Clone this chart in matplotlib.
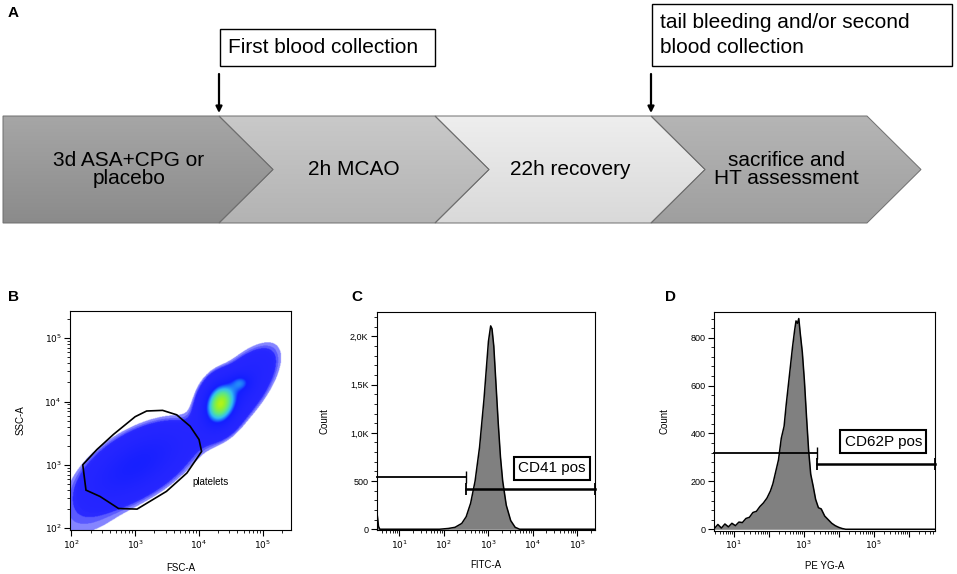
import matplotlib.pyplot as plt
import numpy as np
from matplotlib.colors import LinearSegmentedColormap, to_rgb
from matplotlib.patches import Polygon, Rectangle

plt.rcParams["font.family"] = ["Liberation Sans", "DejaVu Sans"]

# ---- panel A: timeline ----
stages = ["3d ASA+CPG or\nplacebo", "2h MCAO", "22h recovery", "sacrifice and\nHT assessment"]
stage_top = ["#a6a6a6", "#c9c9c9", "#eeeeee", "#b5b5b5"]
stage_bottom = ["#8b8b8b", "#b3b3b3", "#d9d9d9", "#9f9f9f"]
events = ["First blood collection", "tail bleeding and/or second\nblood collection"]
event_after = [0, 2]  # arrow at the end of these stages

# ---- panel B: FSC-A / SSC-A populations (log10 units) ----
# centre x, centre y, spread along, spread across, tilt (deg), relative density
pop_cx = [3.02, 2.2, 4.55, 4.33, 4.65]
pop_cy = [3.0, 2.15, 4.10, 3.97, 4.30]
pop_along = [0.46, 0.45, 0.42, 0.20, 0.11]
pop_across = [0.22, 0.28, 0.17, 0.14, 0.09]
pop_tilt = [31, 15, 50, 75, 0]
pop_weight = [1.0, 0.045, 0.75, 3.0, 0.9]

gate_x = [2.18, 2.23, 2.45, 2.74, 3.03, 3.49, 3.81, 4.04, 4.00, 3.86, 3.65, 3.43, 3.18, 3.00, 2.66, 2.40]
gate_y = [3.00, 2.60, 2.50, 2.31, 2.30, 2.58, 2.87, 3.21, 3.40, 3.61, 3.79, 3.86, 3.85, 3.76, 3.48, 3.24]

# ---- panel C: FITC-A histogram (log10 units) ----
fitc_x = [0.49, 0.51, 0.53, 0.56, 1.9, 2.1, 2.25, 2.4, 2.5, 2.6, 2.7, 2.8, 2.9, 2.95,
          3.0, 3.05, 3.08, 3.12, 3.17, 3.22, 3.27, 3.32, 3.4, 3.5, 3.6, 3.7, 5.4]
fitc_count = [190, 120, 30, 0, 0, 8, 20, 60, 130, 270, 500, 850, 1350, 1650,
              1950, 2110, 2080, 1900, 1500, 1100, 750, 500, 250, 90, 20, 0, 0]
cd41_cut = 2.5
cd41_neg_y, cd41_pos_y = 540, 418

# ---- panel D: PE YG-A histogram (log10 units) ----
pe_x = [0.43, 0.55, 0.65, 0.75, 0.85, 0.95, 1.05, 1.15, 1.25, 1.35, 1.45, 1.55, 1.65,
        1.75, 1.85, 1.95, 2.05, 2.12, 2.2, 2.28, 2.36, 2.44, 2.5, 2.56, 2.62, 2.68,
        2.74, 2.78, 2.82, 2.86, 2.9, 2.96, 3.02, 3.08, 3.14, 3.2, 3.27, 3.34, 3.42,
        3.5, 3.6, 3.7, 3.8, 3.9, 4.0, 4.1, 4.2, 6.74]
pe_count = [0, 20, 5, 22, 10, 25, 15, 30, 28, 45, 50, 70, 75,
            95, 110, 130, 160, 190, 240, 290, 380, 430, 520, 600, 680, 760,
            830, 870, 860, 880, 820, 740, 620, 470, 330, 230, 180, 125, 90,
            85, 55, 40, 25, 15, 8, 3, 0, 0]
cd62_cut = 3.39
cd62_neg_y, cd62_pos_y = 317, 271

W, H = 957, 574
fig = plt.figure(figsize=(W / 100, H / 100), dpi=100)

# pixel-space overlay for panel A and letters
ax0 = fig.add_axes([0, 0, 1, 1])
ax0.set_xlim(0, W)
ax0.set_ylim(H, 0)
ax0.axis("off")

x0, step, tip, top, bot = 3, 216, 54, 116, 223
mid = (top + bot) / 2
for i, name in enumerate(stages):
    left = x0 + i * step
    right = left + step
    pts = [(left, top), (right, top), (right + tip, mid), (right, bot), (left, bot)]
    if i > 0:
        pts.append((left + tip, mid))
    poly = Polygon(pts, closed=True, facecolor="none", edgecolor="#6e6e6e", lw=0.7, zorder=3)
    ax0.add_patch(poly)
    grad = np.linspace(0, 1, 64)[:, None, None]
    img = (1 - grad) * np.array(to_rgb(stage_top[i])) + grad * np.array(to_rgb(stage_bottom[i]))
    img = np.repeat(img, 2, axis=1)
    im = ax0.imshow(img, extent=(left, right + tip, bot, top), aspect="auto",
                    interpolation="bilinear", zorder=2)
    im.set_clip_path(poly)
    cx = (left + right + tip) / 2 - (9 if i == 0 else 0)
    ax0.text(cx, mid, name, ha="center", va="center", fontsize=15,
             linespacing=1.0, zorder=4)

box_w = [215, 300]
box_top = [29, 4]
box_h = [37, 62]
for k, label in enumerate(events):
    xa = x0 + (event_after[k] + 1) * step
    ax0.annotate("", xy=(xa, top - 3), xytext=(xa, box_top[k] + box_h[k] + 8),
                 arrowprops=dict(arrowstyle="-|>", color="black", lw=1.6,
                                 mutation_scale=9, shrinkA=0, shrinkB=0))
    ax0.add_patch(Rectangle((xa + 1, box_top[k]), box_w[k], box_h[k],
                            facecolor="white", edgecolor="black", lw=1.0))
    ax0.text(xa + 9, box_top[k] + box_h[k] / 2, label, ha="left", va="center",
             fontsize=15, linespacing=1.35)

for letter, (lx, ly) in zip("ABCD", [(8, 13), (8, 297), (351, 297), (665, 297)]):
    ax0.text(lx, ly, letter, fontsize=11, fontweight="bold", ha="left", va="center")


def px_axes(left, right, top_, bottom):
    return fig.add_axes([left / W, 1 - bottom / H, (right - left) / W, (bottom - top_) / H])


def style(ax):
    for s in ax.spines.values():
        s.set_linewidth(0.8)
    ax.tick_params(which="major", direction="out", length=4, width=0.8, labelsize=6.5, pad=2)
    ax.tick_params(which="minor", direction="out", length=2, width=0.6)


def log_ticks(ax, axis, lo, hi, labelled):
    majors = list(range(int(np.ceil(lo)), int(np.floor(hi)) + 1))
    minors = [n + np.log10(k) for n in range(int(np.floor(lo)) - 1, int(hi) + 1)
              for k in range(2, 10) if lo <= n + np.log10(k) <= hi]
    labels = ["$10^{%d}$" % m if m in labelled else "" for m in majors]
    if axis == "x":
        ax.set_xticks(majors, labels)
        ax.set_xticks(minors, minor=True)
    else:
        ax.set_yticks(majors, labels)
        ax.set_yticks(minors, minor=True)


# ---- B ----
axB = px_axes(70, 291, 311, 530)
bx_lim, by_lim = (1.98, 5.44), (1.97, 5.43)
gx = np.linspace(*bx_lim, 420)
gy = np.linspace(*by_lim, 420)
X, Y = np.meshgrid(gx, gy)
dens = np.zeros_like(X)
for cx, cy, sa, sc, ang, w in zip(pop_cx, pop_cy, pop_along, pop_across, pop_tilt, pop_weight):
    t = np.deg2rad(ang)
    u = (X - cx) * np.cos(t) + (Y - cy) * np.sin(t)
    v = -(X - cx) * np.sin(t) + (Y - cy) * np.cos(t)
    dens += w * np.exp(-0.5 * ((u / sa) ** 2 + (v / sc) ** 2))
cmap = LinearSegmentedColormap.from_list("flow", [
    (0.0, (0.45, 0.45, 1.0, 0.0)),
    (0.004, (0.35, 0.35, 1.0, 0.75)),
    (0.012, (0.15, 0.15, 1.0, 1.0)),
    (0.30, (0.08, 0.12, 1.0, 1.0)),
    (0.37, (0.10, 0.40, 1.0, 1.0)),
    (0.48, (0.20, 0.75, 0.95, 1.0)),
    (0.64, (0.35, 0.90, 0.55, 1.0)),
    (0.84, (0.60, 0.95, 0.15, 1.0)),
    (1.0, (0.90, 0.95, 0.0, 1.0)),
])
cmap.set_under((1, 1, 1, 0))
axB.imshow(dens, origin="lower", extent=(*bx_lim, *by_lim), aspect="auto",
           cmap=cmap, vmin=0.02, vmax=4.0, interpolation="bilinear")
axB.add_patch(Polygon(list(zip(gate_x, gate_y)), closed=True, fill=False,
                      edgecolor="black", lw=1.2))
axB.text(3.89, 2.73, "platelets", fontsize=7, ha="left", va="center")
axB.set_xlim(*bx_lim)
axB.set_ylim(*by_lim)
style(axB)
log_ticks(axB, "x", *bx_lim, [2, 3, 4, 5])
log_ticks(axB, "y", *by_lim, [2, 3, 4, 5])
axB.set_xlabel("FSC-A", fontsize=7)
axB.set_ylabel("SSC-A", fontsize=7)
axB.xaxis.set_label_coords(0.5, -0.15)
axB.yaxis.set_label_coords(-0.2, 0.5)


def histo(ax, xs, ys, xlim, ylim, cut, neg_y, pos_y, gate_text, text_xy):
    ax.fill_between(xs, ys, color="#808080", lw=0)
    ax.plot(xs, ys, color="black", lw=1.1)
    ax.plot([xlim[0], cut], [neg_y, neg_y], color="black", lw=1.3,
            marker="|", markersize=8, markevery=[1], clip_on=False)
    ax.plot([cut, xlim[1]], [pos_y, pos_y], color="black", lw=1.8,
            marker="|", markersize=8, mew=1.3, clip_on=False)
    ax.text(*text_xy, gate_text, fontsize=11, ha="center", va="center",
            bbox=dict(boxstyle="square,pad=0.3", facecolor="white", edgecolor="black", lw=1.5))
    ax.set_xlim(*xlim)
    ax.set_ylim(*ylim)
    style(ax)
    ax.set_ylabel("Count", fontsize=7)


# ---- C ----
axC = px_axes(376.7, 595.3, 312.3, 530)
histo(axC, fitc_x, fitc_count, (0.49, 5.40), (-8, 2251), cd41_cut,
      cd41_neg_y, cd41_pos_y, "CD41 pos", (4.43, 633))
log_ticks(axC, "x", 0.49, 5.40, [1, 2, 3, 4, 5])
axC.set_yticks([0, 500, 1000, 1500, 2000], ["0", "500", "1,0K", "1,5K", "2,0K"])
axC.set_yticks(np.arange(100, 2250, 100), minor=True)
axC.set_xlabel("FITC-A", fontsize=7)
axC.xaxis.set_label_coords(0.5, -0.14)
axC.yaxis.set_label_coords(-0.214, 0.5)

# ---- D ----
axD = px_axes(713.7, 934.7, 312.3, 530.7)
histo(axD, pe_x, pe_count, (0.43, 6.74), (-6, 906), cd62_cut,
      cd62_neg_y, cd62_pos_y, "CD62P pos", (5.27, 366))
log_ticks(axD, "x", 0.43, 6.74, [1, 3, 5])
axD.set_yticks([0, 200, 400, 600, 800])
axD.set_yticks(np.arange(40, 906, 40), minor=True)
axD.set_xlabel("PE YG-A", fontsize=7)
axD.xaxis.set_label_coords(0.5, -0.14)
axD.yaxis.set_label_coords(-0.2, 0.5)

fig.savefig("out.png", dpi=100)
